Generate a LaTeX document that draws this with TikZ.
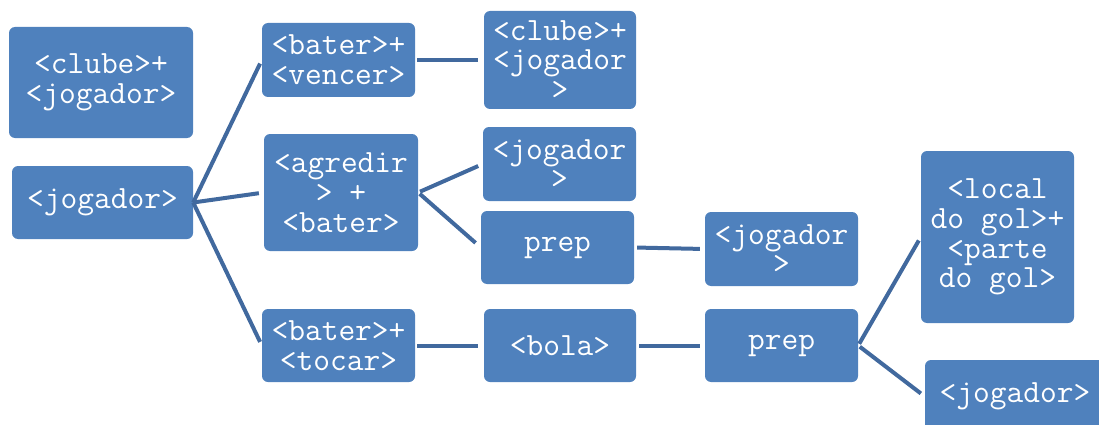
\documentclass[tikz,border=0pt]{standalone}
\usepackage{xcolor}
\definecolor{boxblue}{HTML}{4F81BD}
\definecolor{linkblue}{HTML}{41699E}

\begin{document}
\begin{tikzpicture}[x=1pt,y=-1pt,
  wbox/.style={fill=boxblue,rounded corners=6pt,text=white,align=center,
    inner sep=0pt,font=\ttfamily\fontsize{32.5}{29.8}\selectfont},
  link/.style={linkblue,line width=4pt}]
  \useasboundingbox (0,0) rectangle (1099,425);
  \clip (0,0) rectangle (1099,425);
  % boxes
  \node[wbox,minimum width=184,minimum height=111] (cj) at (101,82.5) {<clube>+\\<jogador>};
  \node[wbox,minimum width=181,minimum height=73] (jog) at (102.5,202.5) {<jogador>};
  \node[wbox,minimum width=153,minimum height=74] (bv) at (338.5,60) {<bater>+\\<vencer>};
  \node[wbox,minimum width=154,minimum height=117] (ab) at (341,192.5) {<agredir\\> +\\<bater>};
  \node[wbox,minimum width=153,minimum height=73] (bt) at (338.5,345.5) {<bater>+\\<tocar>};
  \node[wbox,minimum width=152,minimum height=98] (cj2) at (560,60) {<clube>+\\<jogador\\>};
  \node[wbox,minimum width=153,minimum height=74] (jog2) at (559.5,164) {<jogador\\>};
  \node[wbox,minimum width=153,minimum height=73] (prep1) at (557.5,247.5) {prep};
  \node[wbox,minimum width=152,minimum height=73] (bola) at (560,345.5) {<bola>};
  \node[wbox,minimum width=153,minimum height=74] (jog3) at (781.5,249) {<jogador\\>};
  \node[wbox,minimum width=153,minimum height=73] (prep2) at (781.5,345.5) {prep};
  \node[wbox,minimum width=153,minimum height=172] (gol) at (997.5,237) {<local\\do gol>+\\<parte\\do gol>};
  \node[wbox,minimum width=180,minimum height=73] (jog4) at (1015,396.5) {<jogador>};
  % links
  \draw[link,shorten >=4pt] (jog.east) -- (bv.west);
  \draw[link,shorten >=5pt] (jog.east) -- (ab.west);
  \draw[link,shorten >=4pt] (jog.east) -- (bt.west);
  \draw[link,shorten <=2pt,shorten >=6pt] (bv.east) -- (cj2.west);
  \draw[link,shorten <=2pt,shorten >=5pt] (ab.east) -- (jog2.west);
  \draw[link,shorten <=2pt,shorten >=7pt] (ab.east) -- (prep1.west);
  \draw[link,shorten <=3pt,shorten >=5pt] (prep1.east) -- (jog3.west);
  \draw[link,shorten <=2pt,shorten >=6pt] (bt.east) -- (bola.west);
  \draw[link,shorten <=3pt,shorten >=5pt] (bola.east) -- (prep2.west);
  \draw[link,shorten <=2pt,shorten >=4pt] (prep2.east) -- (gol.west);
  \draw[link,shorten <=2pt,shorten >=5pt] (prep2.east) -- (jog4.west);
\end{tikzpicture}
\end{document}
